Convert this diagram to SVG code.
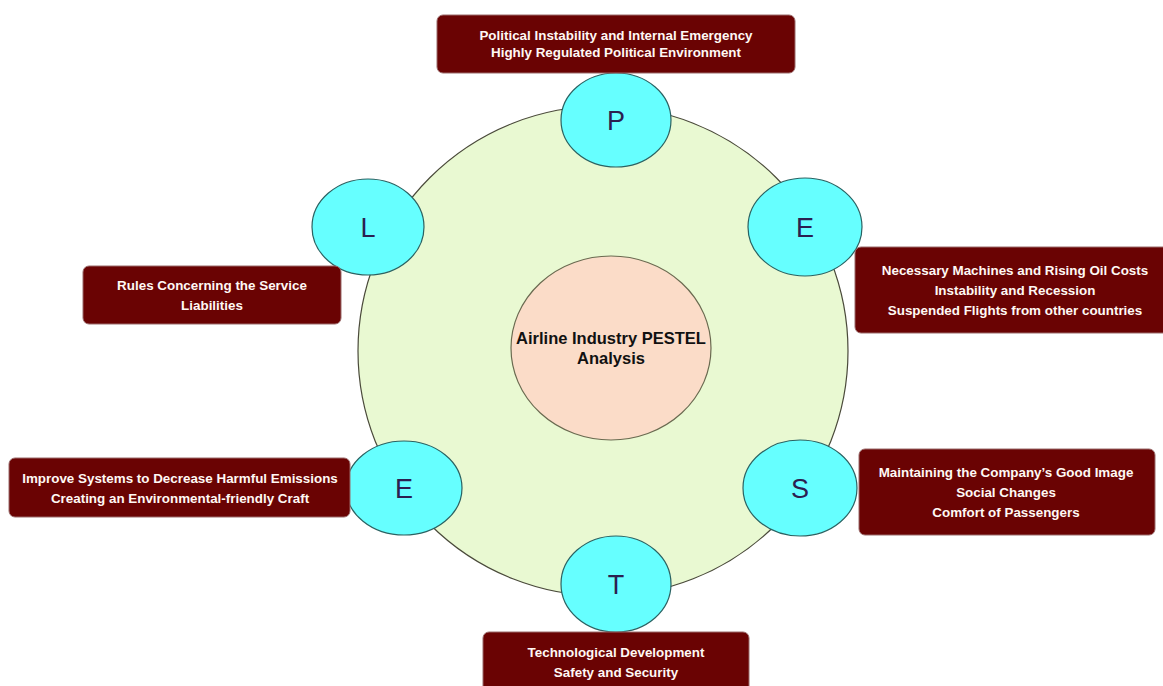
<svg xmlns="http://www.w3.org/2000/svg" width="1163" height="686" viewBox="0 0 1163 686">
<defs>
<style>
.box{fill:#6a0303;stroke:#9a6a6a;stroke-width:1}
.bt{font-family:"Liberation Sans",Arial,sans-serif;font-weight:bold;font-size:13.4px;fill:#fff8f4;text-anchor:middle}
.sc{fill:#66ffff;stroke:#2a6262;stroke-width:1.2}
.lt{font-family:"Liberation Sans",Arial,sans-serif;font-size:27px;fill:#2b2050;text-anchor:middle}
</style>
</defs>
<rect width="1163" height="686" fill="#ffffff"/>
<g id="ring">
<circle cx="603" cy="351" r="245" fill="#e9f9d2" stroke="#4a4a3a" stroke-width="1.2"/>
</g>
<g id="center">
<ellipse cx="611" cy="348" rx="100" ry="92" fill="#fbdcc8" stroke="#6a6a50" stroke-width="1.2"/>
<text font-family="Liberation Sans,Arial,sans-serif" font-weight="bold" font-size="16.5" fill="#111" text-anchor="middle"><tspan x="611" y="344">Airline Industry PESTEL</tspan><tspan x="611" y="364">Analysis</tspan></text>
</g>
<g id="connectors"></g>
<g id="node-P">
<ellipse class="sc" cx="616" cy="120" rx="55" ry="47"/>
<text class="lt" x="616" y="130">P</text>
<rect class="box" x="437" y="15" width="358" height="58" rx="6"/>
<text class="bt"><tspan x="616" y="40">Political Instability and Internal Emergency</tspan><tspan x="616" y="57">Highly Regulated Political Environment</tspan></text>
</g>
<g id="node-E-economic">
<ellipse class="sc" cx="805" cy="227" rx="57" ry="49"/>
<text class="lt" x="805" y="237">E</text>
<rect class="box" x="855" y="247" width="315" height="86" rx="6"/>
<text class="bt"><tspan x="1015" y="275">Necessary Machines and Rising Oil Costs</tspan><tspan x="1015" y="295">Instability and Recession</tspan><tspan x="1015" y="315">Suspended Flights from other countries</tspan></text>
</g>
<g id="node-L">
<ellipse class="sc" cx="368" cy="227" rx="56" ry="48"/>
<text class="lt" x="368" y="237">L</text>
<rect class="box" x="83" y="266" width="258" height="58" rx="6"/>
<text class="bt"><tspan x="212" y="290">Rules Concerning the Service</tspan><tspan x="212" y="310">Liabilities</tspan></text>
</g>
<g id="node-E-environmental">
<ellipse class="sc" cx="404" cy="488" rx="58" ry="47"/>
<text class="lt" x="404" y="498">E</text>
<rect class="box" x="9" y="458" width="341" height="59" rx="6"/>
<text class="bt"><tspan x="180" y="483">Improve Systems to Decrease Harmful Emissions</tspan><tspan x="180" y="503">Creating an Environmental-friendly Craft</tspan></text>
</g>
<g id="node-S">
<ellipse class="sc" cx="800" cy="488" rx="57" ry="48"/>
<text class="lt" x="800" y="498">S</text>
<rect class="box" x="859" y="449" width="296" height="86" rx="6"/>
<text class="bt"><tspan x="1006" y="477">Maintaining the Company’s Good Image</tspan><tspan x="1006" y="497">Social Changes</tspan><tspan x="1006" y="517">Comfort of Passengers</tspan></text>
</g>
<g id="node-T">
<ellipse class="sc" cx="616" cy="584" rx="55" ry="48"/>
<text class="lt" x="616" y="594">T</text>
<rect class="box" x="483" y="632" width="266" height="60" rx="6"/>
<text class="bt"><tspan x="616" y="657">Technological Development</tspan><tspan x="616" y="677">Safety and Security</tspan></text>
</g>
</svg>
